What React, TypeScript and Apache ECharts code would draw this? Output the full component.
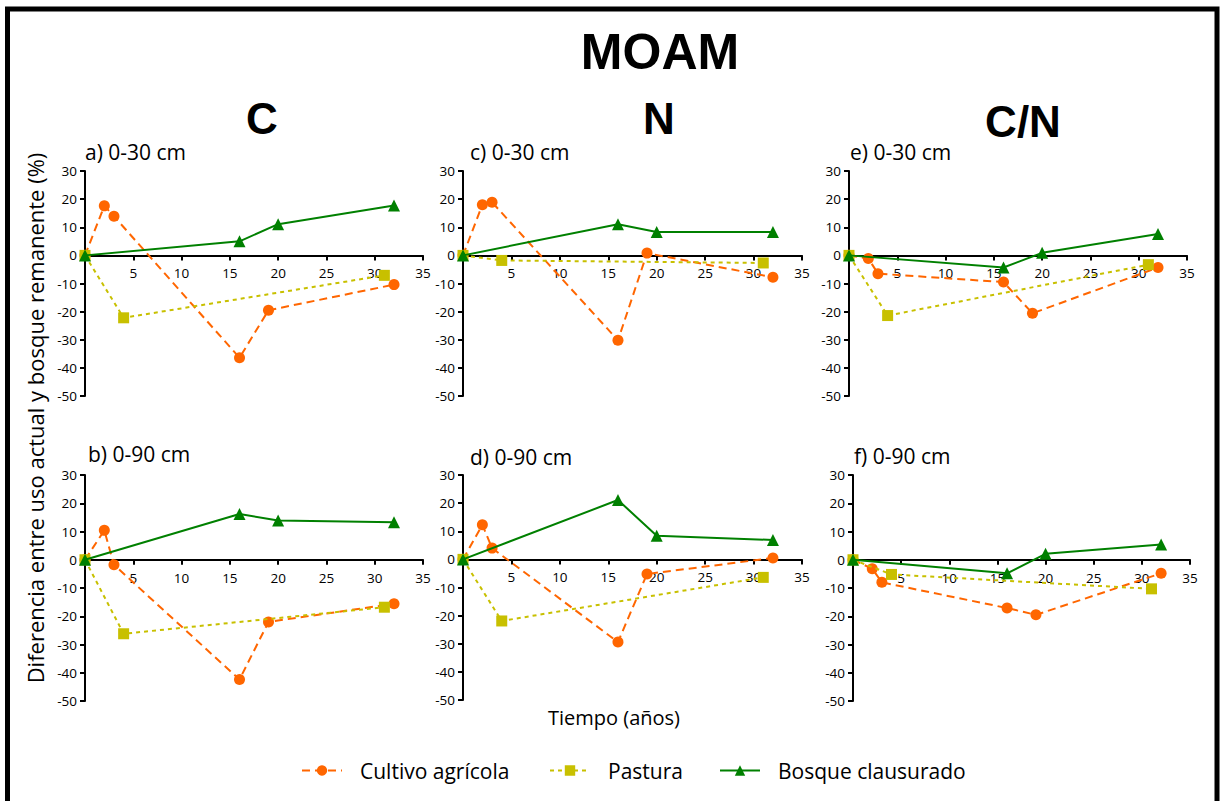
import React, { useEffect, useRef } from "react";
import * as echarts from "echarts";

// ---- data ----
const xCultivo = [0, 2, 3, 16, 19, 32];
const xPastura = [0, 4, 31];
const xBosque = [0, 16, 20, 32];

const panelLabels = ["a) 0-30 cm", "c) 0-30 cm", "e) 0-30 cm", "b) 0-90 cm", "d) 0-90 cm", "f) 0-90 cm"];
const columnTitles = ["C", "N", "C/N"];

const cultivoA = [0, 17.6, 13.9, -36.4, -19.5, -10.4];
const pasturaA = [0, -22.2, -7.1];
const bosqueA = [0, 5.0, 11.1, 17.7];

const cultivoB = [0, 10.4, -1.8, -42.4, -22.0, -15.6];
const pasturaB = [0, -26.2, -16.8];
const bosqueB = [0, 16.2, 13.9, 13.3];

const cultivoC = [0, 18.0, 18.9, -30.2, 0.8, -7.8];
const pasturaC = [0, -1.8, -2.7];
const bosqueC = [0, 11.1, 8.3, 8.3];

const cultivoD = [0, 12.3, 4.0, -29.4, -5.2, 0.5];
const pasturaD = [0, -21.9, -6.4];
const bosqueD = [0, 21.1, 8.4, 6.9];

const cultivoE = [0, -1.1, -6.5, -9.5, -20.6, -4.3];
const pasturaE = [0, -21.4, -3.3];
const bosqueE = [0, -4.3, 0.9, 7.6];

const cultivoF = [0, -3.2, -8.0, -17.1, -19.5, -4.8];
const pasturaF = [0, -5.2, -10.3];
const bosqueF = [0, -4.8, 2.1, 5.4];

const seriesNames = ["Cultivo agrícola", "Pastura", "Bosque clausurado"];

// panel order: a, c, e (top row), b, d, f (bottom row)
const panelData = [
  [cultivoA, pasturaA, bosqueA],
  [cultivoC, pasturaC, bosqueC],
  [cultivoE, pasturaE, bosqueE],
  [cultivoB, pasturaB, bosqueB],
  [cultivoD, pasturaD, bosqueD],
  [cultivoF, pasturaF, bosqueF],
];

const Y_MIN = -50;
const Y_MAX = 30;

const grids = [
  { left: 85, top: 171, width: 338, height: 225 },
  { left: 463, top: 171, width: 339, height: 225 },
  { left: 849, top: 171, width: 338, height: 225 },
  { left: 85, top: 475, width: 338, height: 226 },
  { left: 463, top: 475, width: 339, height: 225 },
  { left: 853, top: 475, width: 337, height: 226 },
];
const labelPos = [
  [85, 152], [470, 152], [850, 152],
  [88, 454], [470, 457], [854, 456],
];

const ORANGE = "#FF6600";
const YELLOW = "#C8C000";
const GREEN = "#008000";
const FONT = "'Open Sans', 'DejaVu Sans', sans-serif";
const NARROW = "'Liberation Sans Narrow', 'Liberation Sans', Arial, sans-serif";

export default function App() {
  const ref = useRef<HTMLDivElement>(null);
  useEffect(() => {
    if (!ref.current) return;
    const chart = echarts.init(ref.current, undefined, { renderer: "svg" });
    const xs = [xCultivo, xPastura, xBosque];
    const styles = [
      { color: ORANGE, symbol: "circle", size: 11, type: [8, 5] as any },
      { color: YELLOW, symbol: "rect", size: 11, type: [4, 4] as any },
      { color: GREEN, symbol: "triangle", size: 12, type: "solid" as any },
    ];
    const series: any[] = [];
    panelData.forEach((panel, gi) => {
      panel.forEach((vals, si) => {
        const st = styles[si];
        series.push({
          type: "line",
          name: seriesNames[si],
          xAxisIndex: gi,
          yAxisIndex: gi,
          data: vals.map((v, i) => [xs[si][i], v]),
          symbol: st.symbol,
          symbolSize: st.size,
          clip: false,
          itemStyle: { color: st.color },
          lineStyle: { color: st.color, width: 2, type: st.type },
          z: 2 + si,
        });
      });
    });
    const xAxis = grids.map((g, i) => ({
      type: "value",
      gridIndex: i,
      min: 0,
      max: 35,
      interval: 5,
      position: "bottom",
      // place the x axis at y = 0
      offset: -(g.height * (0 - Y_MIN)) / (Y_MAX - Y_MIN),
      axisLine: { show: true, onZero: false, lineStyle: { color: "#000", width: 2 } },
      axisTick: { show: true, length: 5, lineStyle: { color: "#000", width: 2 } },
      axisLabel: {
        color: "#000",
        fontSize: 13.5,
        fontFamily: FONT,
        margin: 11,
        formatter: (v: number) => (v === 0 ? "" : String(v)),
      },
      splitLine: { show: false },
      z: 1,
    }));
    const yAxis = grids.map((_, i) => ({
      type: "value",
      gridIndex: i,
      min: Y_MIN,
      max: Y_MAX,
      interval: 10,
      axisLine: { show: true, onZero: false, lineStyle: { color: "#000", width: 2 } },
      axisTick: { show: true, length: 5, lineStyle: { color: "#000", width: 2 } },
      axisLabel: { color: "#000", fontSize: 13.5, fontFamily: FONT, margin: 8 },
      splitLine: { show: false },
    }));
    const legendLefts = [296, 544, 714];
    const legend = seriesNames.map((n, i) => ({
      data: [n],
      left: legendLefts[i],
      top: 755,
      itemWidth: 40,
      itemHeight: 13,
      selectedMode: false,
      textStyle: { fontSize: 21, fontFamily: FONT, color: "#000", padding: [0, 0, 0, 13] },
    }));
    const graphic: any[] = [
      {
        type: "rect",
        shape: { x: 7.5, y: 9, width: 1209.5, height: 1000 },
        style: { fill: "none", stroke: "#000", lineWidth: 5 },
        silent: true,
      },
      {
        type: "text",
        x: 660,
        y: 52,
        style: { text: "MOAM", font: `bold 50px ${NARROW}`, fill: "#000", textAlign: "center", textVerticalAlign: "middle" },
      },
      ...columnTitles.map((t, i) => ({
        type: "text",
        x: [262, 659, 1023][i],
        y: [118, 118, 121][i],
        style: { text: t, font: `bold 44px ${NARROW}`, fill: "#000", textAlign: "center", textVerticalAlign: "middle" },
      })),
      ...panelLabels.map((t, i) => ({
        type: "text",
        x: labelPos[i][0],
        y: labelPos[i][1],
        style: { text: t, font: `21px ${FONT}`, fill: "#000", textAlign: "left", textVerticalAlign: "middle" },
      })),
      {
        type: "text",
        x: 614,
        y: 717,
        style: { text: "Tiempo (años)", font: `20px ${FONT}`, fill: "#000", textAlign: "center", textVerticalAlign: "middle" },
      },
      {
        type: "text",
        x: 35,
        y: 418,
        rotation: Math.PI / 2,
        style: {
          text: "Diferencia entre uso actual y bosque remanente (%)",
          font: `22px ${FONT}`,
          fill: "#000",
          textAlign: "center",
          textVerticalAlign: "middle",
        },
      },
    ];
    chart.setOption({
      animation: false,
      backgroundColor: "#fff",
      grid: grids.map((g) => ({ ...g, containLabel: false })),
      xAxis,
      yAxis,
      legend,
      series,
      graphic,
    });
    return () => chart.dispose();
  }, []);
  return (
    <div
      ref={ref}
      style={{ position: "fixed", left: 0, top: 0, width: 1221, height: 801, background: "#fff" }}
    />
  );
}
